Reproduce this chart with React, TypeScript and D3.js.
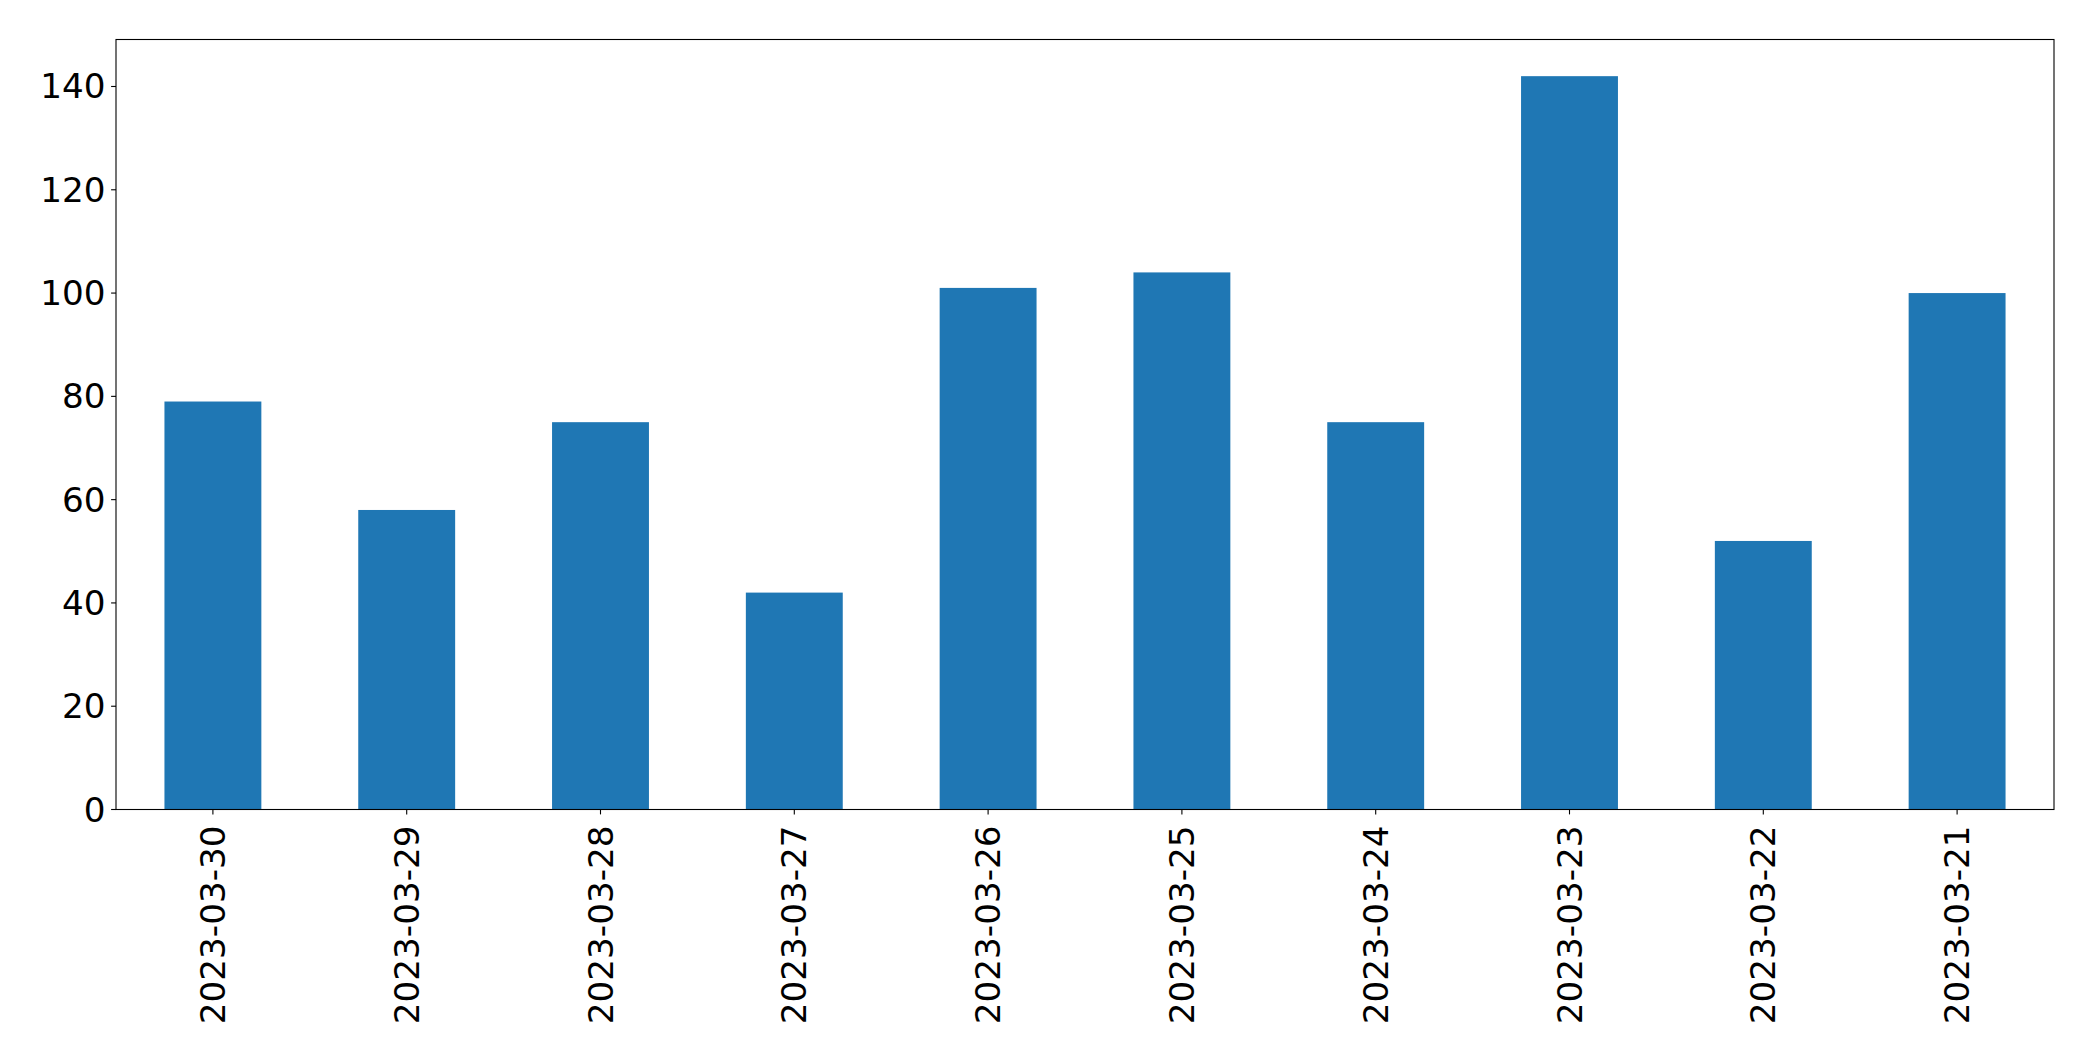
import React, { useEffect, useRef } from "react";
import * as d3 from "d3";

const categories = [
  "2023-03-30", "2023-03-29", "2023-03-28", "2023-03-27", "2023-03-26",
  "2023-03-25", "2023-03-24", "2023-03-23", "2023-03-22", "2023-03-21",
];
const values = [79, 58, 75, 42, 101, 104, 75, 142, 52, 100];
const yTicks = [0, 20, 40, 60, 80, 100, 120, 140];

const W = 2093;
const H = 1061;
const M = { left: 116, right: 2054, top: 39.5, bottom: 809.5 };
const FONT = "'DejaVu Sans', sans-serif";
const FS = 34.2;

export default function App() {
  const ref = useRef<SVGSVGElement>(null);
  useEffect(() => {
    const svg = d3.select(ref.current);
    svg.selectAll("*").remove();
    const x = d3.scaleLinear().domain([-0.5, categories.length - 0.5]).range([M.left, M.right]);
    const yMax = d3.max(values)! * 1.05;
    const y = d3.scaleLinear().domain([0, yMax]).range([M.bottom, M.top]);
    const bw = x(0.5) - x(0);

    svg.append("g")
      .selectAll("rect")
      .data(values)
      .join("rect")
      .attr("x", (_, i) => x(i) - bw / 2)
      .attr("width", bw)
      .attr("y", (d) => y(d))
      .attr("height", (d) => y(0) - y(d))
      .attr("fill", "#1f77b4");

    svg.append("rect")
      .attr("x", M.left).attr("y", M.top)
      .attr("width", M.right - M.left).attr("height", M.bottom - M.top)
      .attr("fill", "none").attr("stroke", "#000").attr("stroke-width", 1.1);

    const gy = svg.append("g");
    yTicks.forEach((t) => {
      gy.append("line")
        .attr("x1", M.left - 4.9).attr("x2", M.left)
        .attr("y1", y(t)).attr("y2", y(t))
        .attr("stroke", "#000").attr("stroke-width", 1.1);
      gy.append("text")
        .attr("x", M.left - 10.5).attr("y", y(t))
        .attr("text-anchor", "end").attr("dominant-baseline", "central")
        .attr("font-family", FONT).attr("font-size", FS)
        .attr("fill", "#000").text(String(t));
    });

    const gx = svg.append("g");
    categories.forEach((c, i) => {
      gx.append("line")
        .attr("x1", x(i)).attr("x2", x(i))
        .attr("y1", M.bottom).attr("y2", M.bottom + 4.9)
        .attr("stroke", "#000").attr("stroke-width", 1.1);
      gx.append("text")
        .attr("transform", `translate(${x(i)},${M.bottom + 16}) rotate(-90)`)
        .attr("text-anchor", "end").attr("dominant-baseline", "central")
        .attr("font-family", FONT).attr("font-size", FS)
        .attr("fill", "#000").text(c);
    });
  }, []);

  return (
    <svg
      ref={ref}
      width={W}
      height={H}
      style={{ position: "absolute", left: 0, top: 0, background: "#fff" }}
    />
  );
}
